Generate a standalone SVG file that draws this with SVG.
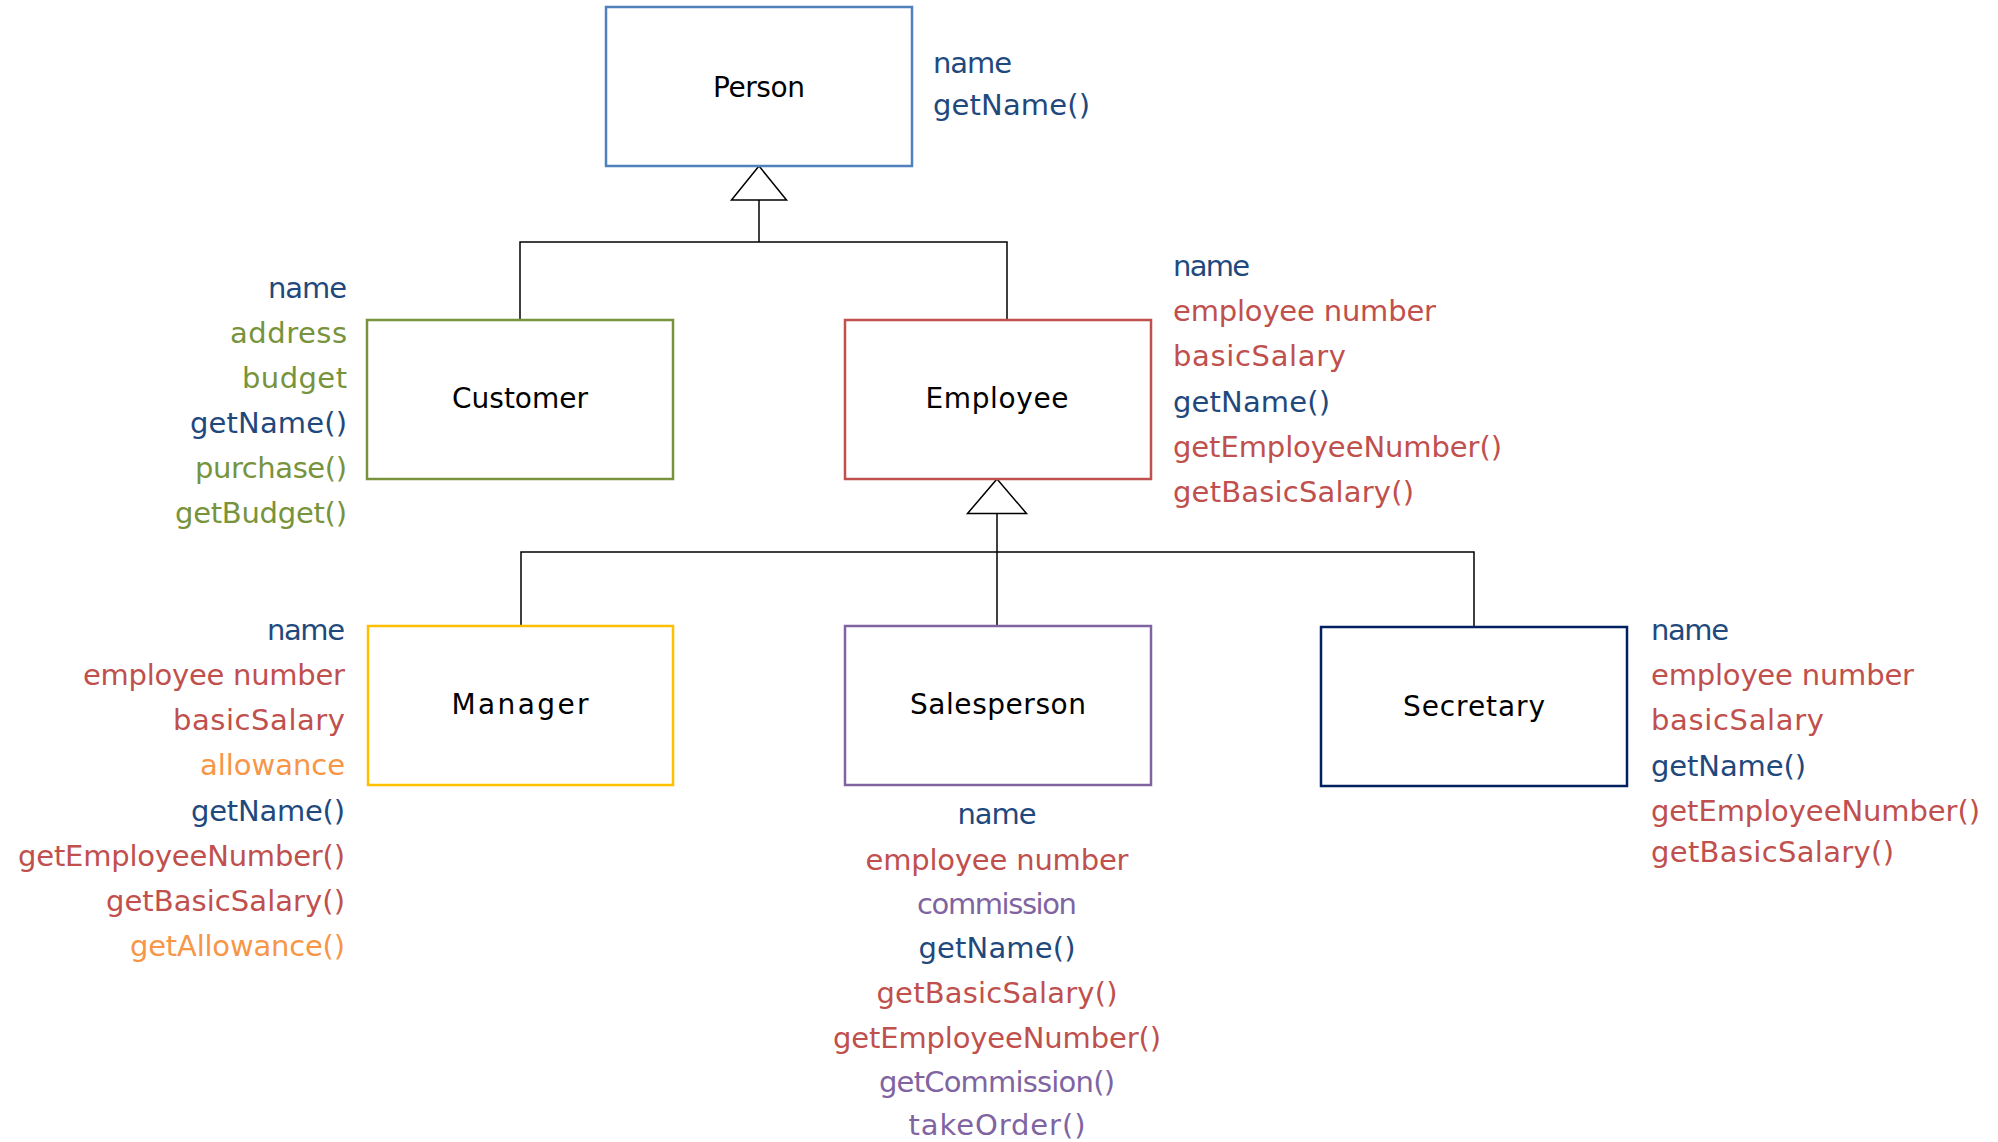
<svg xmlns="http://www.w3.org/2000/svg" width="1998" height="1142" viewBox="0 0 1998 1142">
  <style>
    .box { fill: #ffffff; stroke-width: 2.5; }
    .label { font-family: "DejaVu Sans", "Liberation Sans", sans-serif; font-size: 28px; fill: #000000; }
    .attr { font-family: "DejaVu Sans", "Liberation Sans", sans-serif; font-size: 29px; }
    .blue { fill: #1F497D; }
    .green { fill: #77933C; }
    .red { fill: #C0504D; }
    .orange { fill: #F79646; }
    .purple { fill: #8064A2; }
    .wire { stroke: #000000; stroke-width: 1.5; fill: none; }
    .head { stroke: #000000; stroke-width: 1.5; fill: #ffffff; stroke-linejoin: miter; }
  </style>
  <rect width="1998" height="1142" fill="#ffffff"/>

  <!-- inheritance connectors -->
  <g id="connectors">
    <!-- Customer / Employee -> Person -->
    <path class="wire" d="M520 320 V242 H1007 V320"/>
    <path class="wire" d="M759 242 V200"/>
    <polygon class="head" points="759,166 786.5,200 731.5,200"/>
    <!-- Manager / Salesperson / Secretary -> Employee -->
    <path class="wire" d="M521 626 V552 H1474 V627"/>
    <path class="wire" d="M997 626 V513.5"/>
    <polygon class="head" points="997,479 1026.5,513.5 967.5,513.5"/>
  </g>

  <g id="person">
    <rect class="box" x="606" y="7" width="306" height="159" stroke="#4F81BD"/>
    <text class="label" x="713" y="97" textLength="92">Person</text>
    <text class="attr blue" x="933" y="73" textLength="79">name</text>
    <text class="attr blue" x="933" y="115" textLength="157">getName()</text>
  </g>

  <g id="customer">
    <rect class="box" x="367" y="320" width="306" height="159" stroke="#77933C"/>
    <text class="label" x="452" y="408" textLength="136">Customer</text>
    <text class="attr blue" x="268" y="298" textLength="79">name</text>
    <text class="attr green" x="230" y="343" textLength="117">address</text>
    <text class="attr green" x="242" y="388" textLength="105">budget</text>
    <text class="attr blue" x="190" y="432.5" textLength="157">getName()</text>
    <text class="attr green" x="195" y="477.5" textLength="152">purchase()</text>
    <text class="attr green" x="175" y="522.5" textLength="172">getBudget()</text>
  </g>

  <g id="employee">
    <rect class="box" x="845" y="320" width="306" height="159" stroke="#C0504D"/>
    <text class="label" x="925.5" y="408" textLength="143">Employee</text>
    <text class="attr blue" x="1173" y="276" textLength="77">name</text>
    <text class="attr red" x="1173" y="321" textLength="263">employee number</text>
    <text class="attr red" x="1173" y="366" textLength="173">basicSalary</text>
    <text class="attr blue" x="1173" y="412" textLength="157">getName()</text>
    <text class="attr red" x="1173" y="457" textLength="329">getEmployeeNumber()</text>
    <text class="attr red" x="1173" y="502" textLength="241">getBasicSalary()</text>
  </g>

  <g id="manager">
    <rect class="box" x="368" y="626" width="305" height="159" stroke="#FFC000" stroke-width="3"/>
    <text class="label" x="451.5" y="714" textLength="137">Manager</text>
    <text class="attr blue" x="267" y="640" textLength="78">name</text>
    <text class="attr red" x="83" y="685" textLength="262">employee number</text>
    <text class="attr red" x="173" y="730" textLength="172">basicSalary</text>
    <text class="attr orange" x="200" y="775" textLength="145">allowance</text>
    <text class="attr blue" x="191" y="821" textLength="154">getName()</text>
    <text class="attr red" x="18" y="866" textLength="327">getEmployeeNumber()</text>
    <text class="attr red" x="106" y="911" textLength="239">getBasicSalary()</text>
    <text class="attr orange" x="130" y="956" textLength="215">getAllowance()</text>
  </g>

  <g id="salesperson">
    <rect class="box" x="845" y="626" width="306" height="159" stroke="#8064A2" stroke-width="3"/>
    <text class="label" x="910" y="714" textLength="176">Salesperson</text>
    <text class="attr blue" x="957.5" y="824" textLength="79">name</text>
    <text class="attr red" x="865.5" y="870" textLength="263">employee number</text>
    <text class="attr purple" x="917" y="914" textLength="160">commission</text>
    <text class="attr blue" x="918.5" y="958" textLength="157">getName()</text>
    <text class="attr red" x="876.5" y="1003" textLength="241">getBasicSalary()</text>
    <text class="attr red" x="833" y="1048" textLength="328">getEmployeeNumber()</text>
    <text class="attr purple" x="879" y="1092" textLength="236">getCommission()</text>
    <text class="attr purple" x="908.5" y="1135" textLength="177">takeOrder()</text>
  </g>

  <g id="secretary">
    <rect class="box" x="1321" y="627" width="306" height="159" stroke="#002060" stroke-width="3"/>
    <text class="label" x="1403" y="716" textLength="142">Secretary</text>
    <text class="attr blue" x="1651" y="640" textLength="78">name</text>
    <text class="attr red" x="1651" y="685" textLength="263">employee number</text>
    <text class="attr red" x="1651" y="730" textLength="173">basicSalary</text>
    <text class="attr blue" x="1651" y="776" textLength="155">getName()</text>
    <text class="attr red" x="1651" y="821" textLength="329">getEmployeeNumber()</text>
    <text class="attr red" x="1651" y="862" textLength="243">getBasicSalary()</text>
  </g>
</svg>
